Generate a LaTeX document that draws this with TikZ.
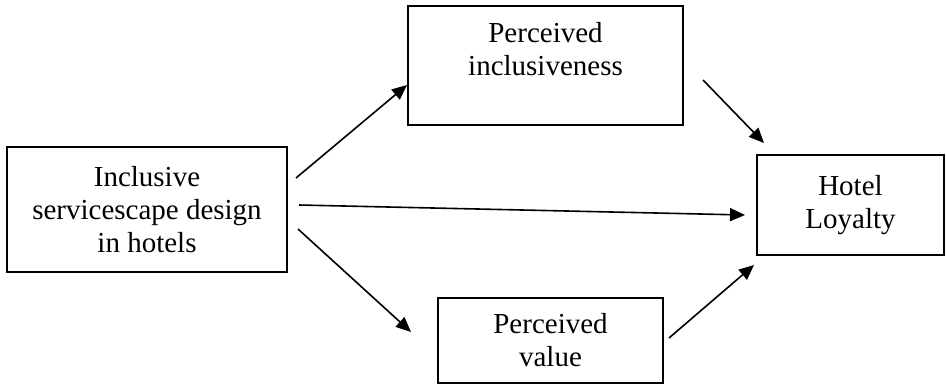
\documentclass[tikz,border=0pt]{standalone}
\usepackage{fontspec}
\setmainfont{Liberation Serif}
\usetikzlibrary{arrows.meta}

\begin{document}
\begin{tikzpicture}[x=0.5pt,y=-0.5pt,
  every node/.style={draw, rectangle, line width=1pt, align=center, inner sep=0pt,
    font=\fontsize{14.5}{16.5}\selectfont},
  arr/.style={-{Triangle[length=7.5pt,width=6.5pt]}, line width=0.8pt}]

\useasboundingbox (0,0) rectangle (946,385);

\node[minimum width=140pt, minimum height=62.5pt] (isd) at (147,209.5) {Inclusive\\servicescape design\\in hotels};
\node[minimum width=137.5pt, minimum height=59.5pt] (pinc) at (545.5,65.5) {Perceived\\inclusiveness\\ \mbox{}};
\node[minimum width=93.5pt, minimum height=50pt] (loy) at (850.5,205) {Hotel\\Loyalty};
\node[minimum width=112.5pt, minimum height=42.5pt] (pval) at (550.5,340.5) {Perceived\\value};

\path[arr] ([shift={(8,32)}]isd.north east) edge ([shift={(0,-41)}]pinc.south west);
\path[arr] ([shift={(11,-4.5)}]isd.east) edge ([shift={(-11,10)}]loy.west);
\path[arr] ([shift={(10,19.5)}]isd.east) edge ([shift={(-26,-8.5)}]pval.west);
\path[arr] ([shift={(19,14.5)}]pinc.east) edge ([shift={(8,-11)}]loy.north west);
\path[arr] ([shift={(5,-2.5)}]pval.east) edge ([shift={(-2,9)}]loy.south west);
\end{tikzpicture}
\end{document}
